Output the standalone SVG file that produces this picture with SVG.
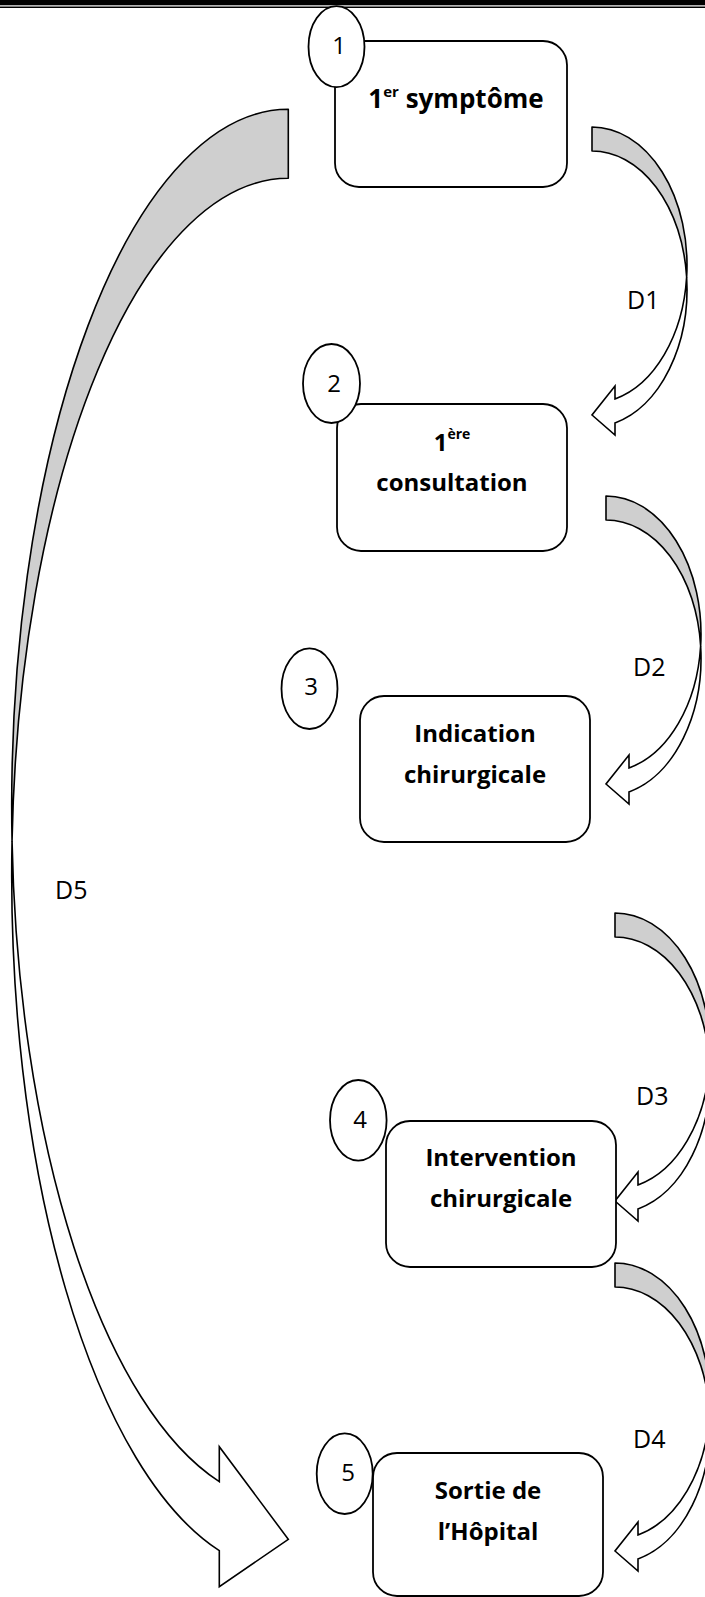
<svg xmlns="http://www.w3.org/2000/svg" xmlns:xlink="http://www.w3.org/1999/xlink" width="705" height="1597" viewBox="0 0 705 1597">
<style>
.box{fill:#fff;stroke:#000;stroke-width:1.8}
.num{fill:#fff;stroke:#000;stroke-width:1.8}
.grey{fill:#cfcfcf;stroke:#000;stroke-width:1.6;stroke-linejoin:round}
.white{fill:#fff;stroke:#000;stroke-width:1.6;stroke-linejoin:miter}
.t{font-family:"Open Sans","Liberation Sans",sans-serif;font-weight:bold;font-size:24px;fill:#000;text-anchor:middle}
.sup{font-size:14px}
.n{font-family:"Open Sans","Liberation Sans",sans-serif;font-size:24px;fill:#000;text-anchor:middle}
.lbl{font-family:"Open Sans","Liberation Sans",sans-serif;font-size:25px;fill:#000}
</style>
<defs>
<g id="curved">
<path class="grey" d="M0,0 A95,138 0 0 1 94.64,150 A95,138 0 0 0 0,24 Z"/>
<path class="white" d="M94.64,150 A95,138 0 0 1 23,295.9 L23,308 L0,288 L23,259 L23,271.9 A95,138 0 0 0 94.64,150 Z"/>
</g>
</defs>
<rect x="0" y="0" width="705" height="5.3" fill="#000"/>
<rect x="0" y="6.5" width="705" height="1.5" fill="#000"/>
<g id="connectors">
<use id="d1" xlink:href="#curved" transform="translate(592,127)"/>
<use id="d2" xlink:href="#curved" transform="translate(606,496)"/>
<use id="d3" xlink:href="#curved" transform="translate(615,913)"/>
<use id="d4" xlink:href="#curved" transform="translate(615,1263)"/>
<g id="d5">
<path class="grey" d="M288.3,109.3 A276.6,697.2 0 0 0 12.04,841 A276.6,697.2 0 0 1 288.3,178.3 Z"/>
<path class="white" d="M12.04,841 A276.6,697.2 0 0 0 219.3,1550.7 L219.3,1586.7 L288.3,1539.3 L219.3,1446.7 L219.3,1481.7 A276.6,697.2 0 0 1 12.04,841 Z"/>
</g>
<text class="lbl" x="627" y="309">D1</text>
<text class="lbl" x="633" y="676">D2</text>
<text class="lbl" x="636" y="1105">D3</text>
<text class="lbl" x="633" y="1448">D4</text>
<text class="lbl" x="55" y="899">D5</text>
</g>
<g id="node1">
<rect class="box" x="335" y="41" width="232" height="146" rx="24"/>
<ellipse class="num" cx="336.5" cy="46.7" rx="28" ry="40.5"/>
<text class="n" x="339" y="54">1</text>
<text class="t" x="456" y="108" style="font-size:26px">1<tspan class="sup" style="font-size:15px" dy="-11">er</tspan><tspan dy="11"> symptôme</tspan></text>
</g>
<g id="node2">
<rect class="box" x="337" y="404" width="230" height="147" rx="24"/>
<ellipse class="num" cx="331.5" cy="383.5" rx="28.5" ry="39.5"/>
<text class="n" x="334" y="391.5">2</text>
<text class="t" x="452" y="450.5">1<tspan class="sup" dy="-12">ère</tspan></text>
<text class="t" x="452" y="491">consultation</text>
</g>
<g id="node3">
<rect class="box" x="360" y="696" width="230" height="146" rx="24"/>
<ellipse class="num" cx="309.5" cy="688.7" rx="28" ry="40.3"/>
<text class="n" x="311" y="695">3</text>
<text class="t" x="475" y="741.5">Indication</text>
<text class="t" x="475" y="783">chirurgicale</text>
</g>
<g id="node4">
<rect class="box" x="386" y="1121" width="230" height="146" rx="24"/>
<ellipse class="num" cx="358.3" cy="1120.3" rx="28.3" ry="40.3"/>
<text class="n" x="360" y="1128.3">4</text>
<text class="t" x="501" y="1166">Intervention</text>
<text class="t" x="501" y="1207.3">chirurgicale</text>
</g>
<g id="node5">
<rect class="box" x="373" y="1453" width="230" height="143" rx="24"/>
<ellipse class="num" cx="344.7" cy="1473.7" rx="28" ry="40.3"/>
<text class="n" x="348" y="1480.7">5</text>
<text class="t" x="488" y="1499.3">Sortie de</text>
<text class="t" x="488" y="1540">l’Hôpital</text>
</g>
</svg>
